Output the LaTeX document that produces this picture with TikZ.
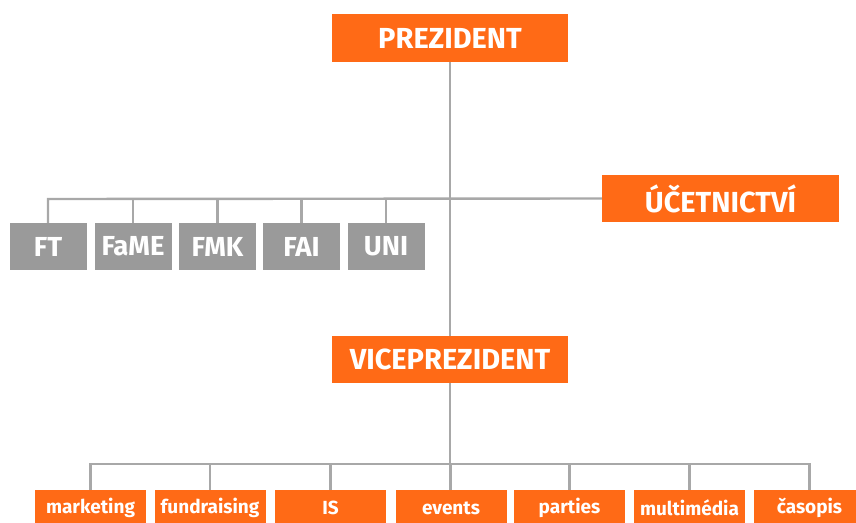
\documentclass[tikz,border=0pt]{standalone}
\usepackage{fontspec}
\setmainfont{Fira Sans}
\definecolor{orng}{HTML}{FF6A16}
\definecolor{gbox}{HTML}{9A9A9A}
\definecolor{gline}{HTML}{A8A8A8}
\begin{document}
\begin{tikzpicture}[x=1pt,y=-1pt,
  obox/.style={fill=orng,text=white,font=\bfseries\fontsize{29}{33}\selectfont,inner sep=0pt,anchor=center},
  big/.style={obox,minimum width=236pt,minimum height=48pt},
  gry/.style={fill=gbox,text=white,font=\bfseries\fontsize{27.5}{31}\selectfont,inner sep=0pt,minimum width=77pt,minimum height=47pt},
  small/.style={fill=orng,text=white,font=\bfseries\fontsize{19}{23}\selectfont,inner sep=0pt,minimum width=111pt,minimum height=36pt},
  conn/.style={draw=gline,line width=2.4pt}]
\useasboundingbox (0,0) rectangle (856,522);
\node[big] (pre) at (450,38) {PREZIDENT};
\node[big,minimum width=237pt,minimum height=47pt] (uct) at (720.5,198.5) {ÚČETNICTVÍ};
\node[big,minimum height=47pt] (vice) at (450,359.5) {VICEPREZIDENT};
\node[gry] (ft) at (48,246.5) {FT};
\node[gry] (fame) at (133,246.5) {FaME};
\node[gry] (fmk) at (217.5,246.5) {FMK};
\node[gry] (fai) at (301.5,246.5) {FAI};
\node[gry] (uni) at (386,246.5) {UNI};
\node[small] (mkt) at (90.5,508) {marketing};
\node[small] (fund) at (210,508) {fundraising};
\node[small] (is) at (330.5,508) {IS};
\node[small] (ev) at (451,508) {events};
\node[small] (par) at (569.5,508) {parties};
\node[small] (mm) at (689.5,508) {multimédia};
\node[small] (cas) at (809.5,508) {časopis};
\coordinate (hu) at (450,199);
\coordinate (hl) at (450,464);
\draw[conn] (pre.south) -- (vice.north);
\draw[conn] (vice.south) -- (vice.south |- ev.north);
\draw[conn] (ft.north) -- (ft.north |- hu) -- (uct.west);
\foreach \n in {fame,fmk,fai,uni} \draw[conn] (\n.north) -- (\n.north |- hu);
\draw[conn] (mkt.north) -- (mkt.north |- hl) -- (cas.north |- hl) -- (cas.north);
\foreach \n in {fund,is,ev,par,mm} \draw[conn] (\n.north) -- (\n.north |- hl);
\end{tikzpicture}
\end{document}
